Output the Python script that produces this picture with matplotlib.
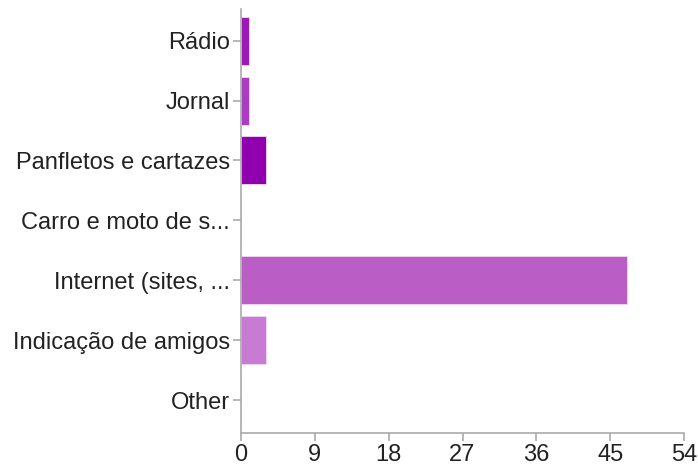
import matplotlib.pyplot as plt

# Data
categories = ['Rádio', 'Jornal', 'Panfletos e cartazes', 'Carro e moto de s...',
              'Internet (sites, ...', 'Indicação de amigos', 'Other']
counts = [1, 1, 3, 0, 47, 3, 0]
colors = ['#9C1BB8', '#A93CC0', '#9000AE', '#B040C4', '#BA5EC6', '#C77BD2', '#B060C8']
xticks = [0, 9, 18, 27, 36, 45, 54]

plt.rcParams['font.family'] = ['Liberation Sans', 'DejaVu Sans']

fig = plt.figure(figsize=(6.98, 4.69), dpi=100)
ax = fig.add_axes([0.3453, 0.0768, 0.6347, 0.9042])

ypos = list(range(len(categories)))
ax.barh(ypos, counts, height=0.8, color=colors, edgecolor='#f0d8f5', linewidth=0.6)

ax.set_xlim(0, 54)
ax.set_ylim(6.55, -0.53)
ax.set_xticks(xticks)
ax.set_yticks(ypos)
ax.set_yticklabels(categories)

for side in ['top', 'right']:
    ax.spines[side].set_visible(False)
for side in ['left', 'bottom']:
    ax.spines[side].set_color('#aaaaaa')
    ax.spines[side].set_linewidth(1.2)

ax.tick_params(axis='both', colors='#aaaaaa', length=6, width=1.2,
               labelsize=17, labelcolor='#222222', pad=2)

fig.savefig('out.png', dpi=100)
